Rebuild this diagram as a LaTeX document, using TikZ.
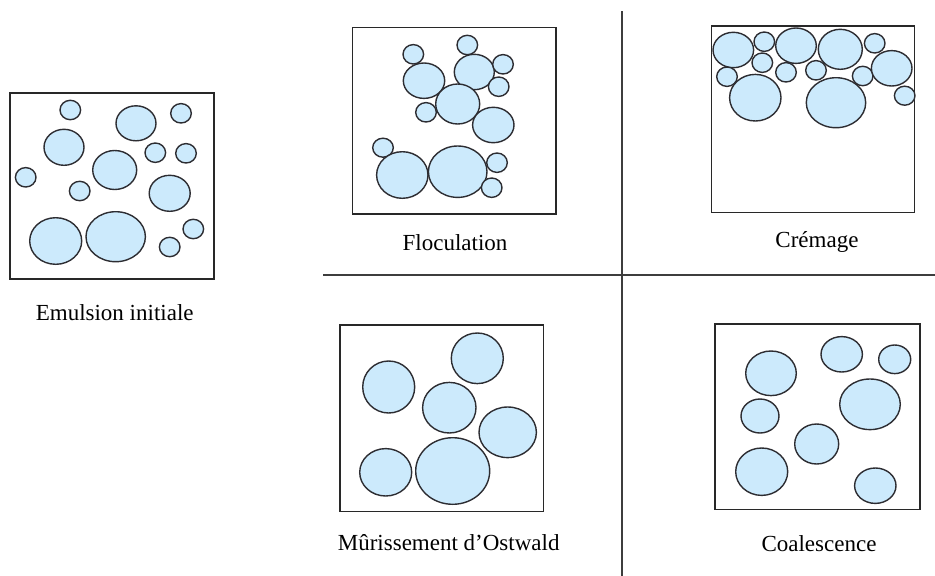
\documentclass[tikz,border=0pt]{standalone}
\usepackage{fontspec}
\setmainfont{Liberation Serif}
\definecolor{dropfill}{RGB}{204,234,252}
\definecolor{dropline}{RGB}{45,45,50}
\definecolor{boxline}{RGB}{40,40,40}
\tikzset{
  drop/.style={fill=dropfill, draw=dropline, line width=1.4pt},
  panel/.style={draw=boxline, line width=1.2pt, fill=none},
  caption/.style={anchor=base, font=\fontsize{23}{27}\selectfont, inner sep=0pt},
  sep/.style={draw=boxline!90, line width=1.1pt}
}
\newcommand{\drp}[4]{\draw[drop] (#1,#2) ellipse [x radius=#3, y radius=#4];}
\begin{document}
\begin{tikzpicture}[x=1pt,y=-1pt]
\useasboundingbox[fill=white] (0,0) rectangle (935,576);
% separators
\coordinate (hl) at (323,275);
\coordinate (hr) at (935,275);
\coordinate (vt) at (622,11);
\coordinate (vb) at (622,576);
\draw[sep] (hl) -- (hr);
\draw[sep] (vt) -- (vb);

% ---- Emulsion initiale
\draw[panel] (10,93) rectangle (214,279);
\drp{70.3}{110}{10.3}{9.7}
\drp{136}{123.3}{20}{17.5}
\drp{181}{113.3}{10.3}{9.7}
\drp{64}{147.3}{20}{18}
\drp{155.3}{152.7}{10.3}{9.7}
\drp{186}{153.3}{10.3}{9.7}
\drp{114.7}{170}{22}{19.5}
\drp{25.7}{177.3}{10.3}{9.7}
\drp{79.7}{191}{10.3}{9.7}
\drp{169.7}{193.3}{20.5}{18}
\drp{55.7}{241}{26}{23.3}
\drp{115.7}{236.7}{29.7}{25}
\drp{193.3}{229}{10.3}{9.7}
\drp{169.7}{247}{10.3}{9.7}
\node[caption] (l1) at (114.7,320.7) {Emulsion initiale};

% ---- Floculation
\draw[panel] (352.3,27.7) rectangle (556,214);
\drp{413.3}{54.3}{10.3}{9.7}
\drp{467.3}{45}{10.3}{9.7}
\drp{424}{80.7}{20.7}{17.7}
\drp{474.3}{72}{20}{17.7}
\drp{503}{64.3}{10.3}{9.7}
\drp{498.7}{86.7}{10.3}{9.7}
\drp{457.7}{104}{22}{20}
\drp{426}{112.3}{10.3}{9.7}
\drp{493.3}{125}{20.7}{17.7}
\drp{383}{147.7}{10.3}{9.5}
\drp{402.3}{175}{25.7}{23.3}
\drp{457.7}{171.7}{29.3}{25.7}
\drp{497}{162.7}{10.3}{9.7}
\drp{491.7}{187.7}{10.3}{9.7}
\node[caption] (l2) at (455,250) {Floculation};

% ---- Cremage
\draw[panel] (711.7,26) rectangle (914.3,212.7);
\drp{733.3}{50}{20.3}{17.7}
\drp{764.3}{41.7}{10.3}{9.7}
\drp{796}{45.7}{20.3}{17.7}
\drp{840.3}{49.3}{22}{20}
\drp{874.7}{43.3}{10.3}{9.7}
\drp{762.3}{62.7}{10.3}{9.7}
\drp{727}{76.7}{10.3}{9.7}
\drp{786}{72.3}{10.3}{9.7}
\drp{816}{70.3}{10.3}{9.7}
\drp{862.7}{76}{10.3}{9.7}
\drp{891.7}{68.3}{20.3}{17.7}
\drp{904.7}{95.7}{10.3}{9.5}
\drp{755.3}{97.7}{25.7}{23.3}
\drp{836}{102.7}{29.7}{25}
\node[caption] (l3) at (817,247.3) {Crémage};

% ---- Murissement d'Ostwald
\draw[panel] (340,325) rectangle (543.3,511.7);
\drp{477.3}{358.3}{26}{25.3}
\drp{388.7}{387}{26}{26}
\drp{449.3}{407.7}{26.7}{25.3}
\drp{507.7}{432.3}{28.7}{25.3}
\drp{385.7}{472.3}{26}{23.7}
\drp{452.7}{471}{37}{33.3}
\node[caption] (l4) at (448.7,550) {Mûrissement d’Ostwald};

% ---- Coalescence
\draw[panel] (715,324) rectangle (920,509.3);
\drp{841.7}{354.3}{20.7}{17.7}
\drp{894.7}{359.3}{16}{14.3}
\drp{771}{373.3}{25.3}{22.3}
\drp{870}{404.3}{30.3}{25.3}
\drp{760}{416}{19}{17}
\drp{816.7}{444}{22}{20}
\drp{761.7}{471.7}{26}{23.7}
\drp{875.3}{485.7}{20.7}{17.7}
\node[caption] (l5) at (819,551) {Coalescence};
\end{tikzpicture}
\end{document}
